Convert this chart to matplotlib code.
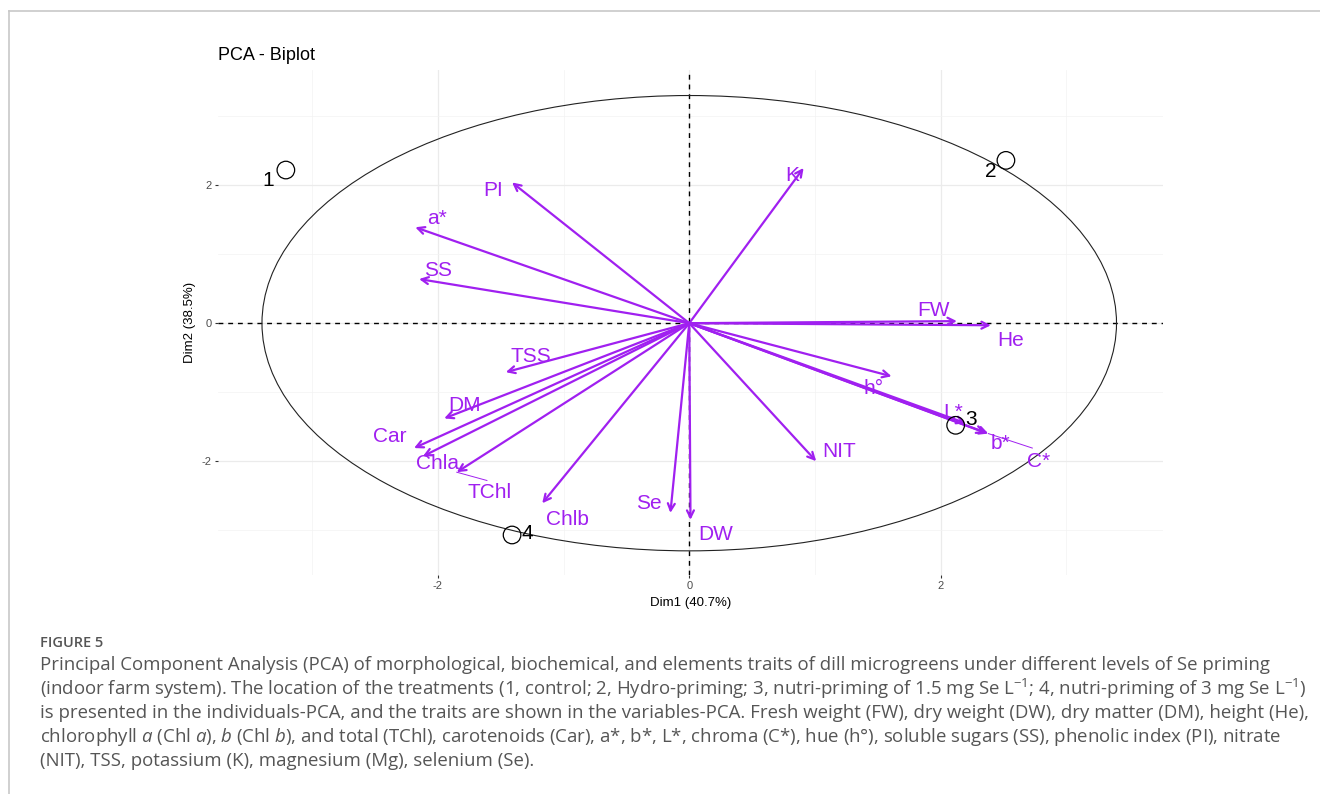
import matplotlib
matplotlib.use("Agg")
import matplotlib.pyplot as plt
from matplotlib.patches import Ellipse
import numpy as np

# ---- data -------------------------------------------------------------
var_names = ["PI", "a*", "SS", "K", "FW", "He", "h°", "L*", "b*", "C*",
             "NIT", "TSS", "DM", "Car", "Chla", "TChl", "Chlb", "Se", "DW"]
var_x = [-1.41, -2.18, -2.15, 0.91, 2.13, 2.40, 1.61, 2.20, 2.36, 2.38,
         1.01, -1.46, -1.95, -2.19, -2.12, -1.85, -1.17, -0.15, 0.01]
var_y = [2.04, 1.39, 0.64, 2.25, 0.03, -0.03, -0.77, -1.45, -1.59, -1.60,
         -2.00, -0.71, -1.38, -1.81, -1.93, -2.16, -2.61, -2.75, -2.85]
# label anchor positions (repelled)
lab_x = [-1.56, -2.01, -2.00, 0.82, 1.94, 2.56, 1.47, 2.10, 2.48, 2.78,
         1.19, -1.26, -1.79, -2.38, -2.00, -1.59, -0.97, -0.32, 0.21]
lab_y = [1.93, 1.52, 0.77, 2.14, 0.19, -0.25, -0.94, -1.30, -1.74, -2.01,
         -1.86, -0.49, -1.19, -1.64, -2.03, -2.45, -2.84, -2.62, -3.06]

ind_names = ["1", "2", "3", "4"]
ind_x = [-3.21, 2.52, 2.12, -1.41]
ind_y = [2.22, 2.36, -1.48, -3.07]
ind_lab_x = [-3.35, 2.40, 2.24, -1.29]
ind_lab_y = [2.07, 2.20, -1.40, -3.05]

circle_rx, circle_ry = 3.40, 3.30
dim1_pct, dim2_pct = 40.7, 38.5

caption_lines = [
    "Principal Component Analysis (PCA) of morphological, biochemical, and elements traits of dill microgreens under different levels of Se priming",
    r"(indoor farm system). The location of the treatments (1, control; 2, Hydro-priming; 3, nutri-priming of 1.5 mg Se L$^{-1}$; 4, nutri-priming of 3 mg Se L$^{-1}$)",
    "is presented in the individuals-PCA, and the traits are shown in the variables-PCA. Fresh weight (FW), dry weight (DW), dry matter (DM), height (He),",
    r"chlorophyll $\mathit{a}$ (Chl $\mathit{a}$), $\mathit{b}$ (Chl $\mathit{b}$), and total (TChl), carotenoids (Car), a*, b*, L*, chroma (C*), hue (h°), soluble sugars (SS), phenolic index (PI), nitrate",
    "(NIT), TSS, potassium (K), magnesium (Mg), selenium (Se).",
]

# ---- style ------------------------------------------------------------
plt.rcParams["font.family"] = ["Liberation Sans", "DejaVu Sans"]
plt.rcParams["axes.unicode_minus"] = False
plt.rcParams["mathtext.fontset"] = "custom"
plt.rcParams["mathtext.rm"] = "Open Sans"
plt.rcParams["mathtext.it"] = "Open Sans:italic"
plt.rcParams["mathtext.bf"] = "Open Sans:bold"

purple = "#A020F0"

fig = plt.figure(figsize=(13.2, 7.94), dpi=100)
ax = fig.add_axes([218 / 1320, 1 - 575 / 794, (1163 - 218) / 1320, (575 - 70) / 794])

ax.set_xlim(-3.75, 3.77)
ax.set_ylim(-3.65, 3.67)

for s in ax.spines.values():
    s.set_visible(False)

ax.set_xticks([-2, 0, 2])
ax.set_yticks([-2, 0, 2])
ax.set_xticks([-3, -1, 1, 3], minor=True)
ax.set_yticks([-3, -1, 1, 3], minor=True)
ax.grid(which="major", color="#ebebeb", lw=0.9)
ax.grid(which="minor", color="#f3f3f3", lw=0.5)
ax.set_axisbelow(True)
ax.tick_params(which="major", length=2.5, width=0.8, color="#333333",
               labelsize=8, labelcolor="#4d4d4d", pad=2)
ax.tick_params(which="minor", length=0)

ax.axhline(0, color="black", lw=1.0, ls=(0, (3.5, 3.5)), zorder=1)
ax.axvline(0, color="black", lw=1.0, ls=(0, (3.5, 3.5)), zorder=1)

ax.add_patch(Ellipse((0, 0), 2 * circle_rx, 2 * circle_ry, fill=False,
                     ec="#222222", lw=0.8, zorder=2))

# variable arrows
for name, x, y in zip(var_names, var_x, var_y):
    ax.annotate("", xy=(x, y), xytext=(0, 0),
                arrowprops=dict(arrowstyle="->,head_length=0.5,head_width=0.25",
                                color=purple, lw=1.6, shrinkA=0, shrinkB=0),
                zorder=3)

# connector segments for labels pushed away from their arrows
for name in ["C*", "TChl"]:
    i = var_names.index(name)
    ax.plot([var_x[i], lab_x[i] - (0.05 if name == "C*" else 0.02)],
            [var_y[i], lab_y[i] + (0.2 if name == "C*" else 0.17)],
            color=purple, lw=0.7, zorder=3)

for name, x, y in zip(var_names, lab_x, lab_y):
    ax.text(x, y, name, color=purple, fontsize=15, ha="center", va="center",
            zorder=4)

# individuals
ax.scatter(ind_x, ind_y, s=160, facecolors="none", edgecolors="black",
           linewidths=0.9, zorder=5)
for name, x, y in zip(ind_names, ind_lab_x, ind_lab_y):
    ax.text(x, y, name, color="black", fontsize=15, ha="center", va="center",
            zorder=6)

ax.set_xlabel(f"Dim1 ({dim1_pct}%)", fontsize=9.5, color="black", labelpad=4)
ax.set_ylabel(f"Dim2 ({dim2_pct}%)", fontsize=9.5, color="black", labelpad=4)
fig.text(218 / 1320, 1 - 56 / 794, "PCA - Biplot", fontsize=13, ha="left",
         va="center", color="black")

# page frame
fig.add_artist(plt.Line2D([9 / 1320, 1], [1 - 11 / 794, 1 - 11 / 794],
                          color="#c8c8c8", lw=1.2, transform=fig.transFigure))
fig.add_artist(plt.Line2D([9 / 1320, 9 / 1320], [0, 1 - 11 / 794],
                          color="#c8c8c8", lw=1.2, transform=fig.transFigure))

# caption
fig.text(40 / 1320, 1 - 643 / 794, "FIGURE 5", fontsize=10.5, family="Open Sans",
         weight="semibold", color="#555555", ha="left", va="center")
for k, line in enumerate(caption_lines):
    fig.text(40 / 1320, 1 - (665 + 24 * k) / 794, line, fontsize=13.45,
             family=["Open Sans", "DejaVu Sans"], color="#555555",
             ha="left", va="center")

fig.savefig("out.png", dpi=100, facecolor="white")
